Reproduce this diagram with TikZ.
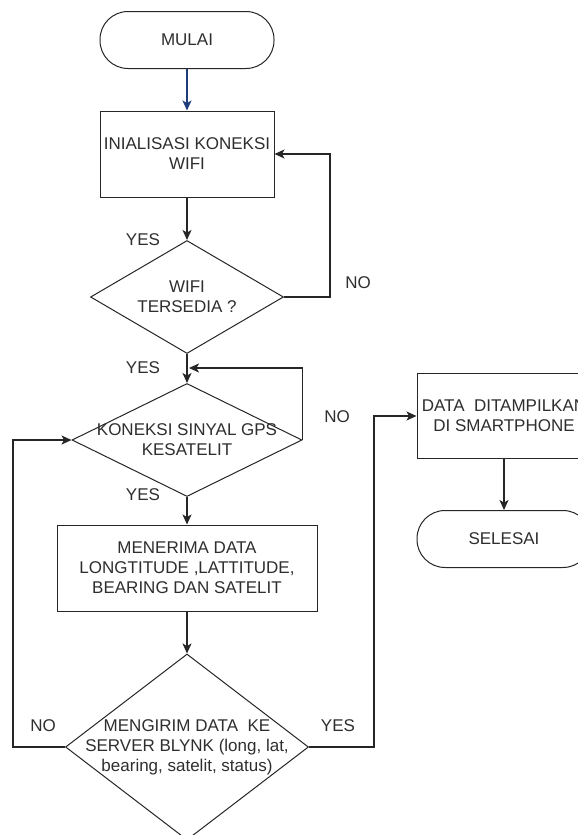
\documentclass[tikz,border=0pt]{standalone}
\usepackage{fontspec}
\setmainfont{Liberation Sans}
\usetikzlibrary{shapes.geometric,arrows.meta}

\definecolor{linegray}{HTML}{262626}
\definecolor{textgray}{HTML}{2E2E2E}
\definecolor{startblue}{HTML}{1F3D7A}

\begin{document}
\begin{tikzpicture}[x=1pt,y=-1pt,
    every node/.style={font=\fontsize{17}{20}\selectfont,text=textgray},
    terminal/.style={draw=linegray,line width=1pt,rounded corners=28pt,
      minimum width=174pt,minimum height=57pt,inner sep=0pt},
    process/.style={draw=linegray,line width=1pt,align=center,
      minimum width=174pt,minimum height=86pt,inner sep=0pt},
    decision/.style={draw=linegray,line width=1pt,diamond,align=center,
      inner sep=-40pt},
    flow/.style={draw=linegray,line width=1.2pt,
      -{Stealth[length=10pt,width=9pt,inset=2.5pt]}}]
  \clip (0,0) rectangle (578,835);
  \fill[white] (0,0) rectangle (578,835);

  % main column
  \node[terminal] (mulai) at (187,40) {MULAI};
  \node[process] (init) at (187,154) {INIALISASI KONEKSI\\WIFI};
  \node[decision,minimum width=193pt,minimum height=113pt] (wifi)
    at (187,297) {WIFI\\TERSEDIA ?};
  \node[decision,minimum width=230pt,minimum height=113pt] (gps)
    at (187,440) {KONEKSI SINYAL GPS\\KESATELIT};
  \node[process,minimum width=260pt] (terima) at (187,568)
    {MENERIMA DATA\\LONGTITUDE ,LATTITUDE,\\BEARING DAN SATELIT};
  \node[decision,minimum width=243pt,minimum height=186pt] (kirim)
    at (187,747) {MENGIRIM DATA\ \ KE\\SERVER BLYNK (long, lat,\\bearing, satelit, status)};

  % right column
  \node[process,minimum height=85pt] (tampil) at (504,416)
    {DATA\ \ DITAMPILKAN\\DI SMARTPHONE};
  \node[terminal] (selesai) at (504,539) {SELESAI};

  \coordinate (wifiback) at (330,154);
  \coordinate (gpsjoin) at (189,368);

  \draw[flow,draw=startblue] (mulai) -- (init);
  \draw[flow] (init) -- (wifi);
  \draw[flow] (wifi.east) -| (wifiback) -- (init.east);
  \draw[flow] (wifi) -- (gps);
  \draw[flow] (gps.east) |- (gpsjoin);
  \draw[flow] (gps) -- (terima);
  \draw[flow] (terima) -- (kirim);
  \draw[flow] (kirim.west) -- ++(-52,0) |- (gps.west);
  \draw[flow] (kirim.east) -- ++(65,0) |- (tampil.west);
  \draw[flow] (tampil) -- (selesai);

  % labels
  \node (yes1) at (143,240) {YES};
  \node (no1) at (358,283) {NO};
  \node (yes2) at (143,368) {YES};
  \node (no2) at (337,417) {NO};
  \node (yes3) at (143,495) {YES};
  \node (no3) at (43,726) {NO};
  \node (yes4) at (338,726) {YES};
\end{tikzpicture}
\end{document}
